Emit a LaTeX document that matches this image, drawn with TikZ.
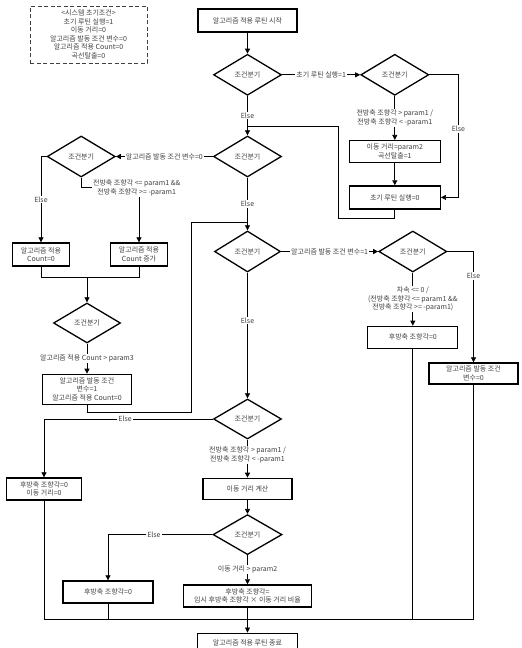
\documentclass[tikz,border=0pt]{standalone}
\usepackage{fontspec}
\setmainfont{Noto Sans CJK KR}
\usetikzlibrary{positioning,shapes.geometric,arrows.meta}

\begin{document}
\begin{tikzpicture}[
    x=1pt, y=-1pt,
    every node/.style={font=\fontsize{7}{8.5}\selectfont, text=black!75},
    init/.style={draw=black!75, dash pattern=on 4pt off 2.5pt, line width=0.8pt,
        minimum width=117pt, minimum height=57pt, align=center, inner sep=1pt},
    box/.style={draw, line width=1.3pt, align=center, inner sep=1pt, minimum height=22pt},
    cond/.style={diamond, draw, line width=1.3pt, aspect=1.6, inner sep=0pt,
        minimum width=68pt, minimum height=41pt},
    lbl/.style={fill=white, inner sep=1pt, align=center},
    flow/.style={-{Triangle[length=5pt,width=5pt]}, line width=0.7pt},
    link/.style={line width=0.7pt}
]
    \useasboundingbox (0,0) rectangle (522,648);

    \node[init] (sysinit) at (88.5,34.5) {<시스템 초기조건>\\초기 루틴 실행=1\\이동 거리=0\\알고리즘 발동 조건 변수=0\\알고리즘 적용 Count=0\\곡선탈출=0};

    % top part
    \node[box, minimum width=99pt, minimum height=23pt] (start) at (247.5,20.5) {알고리즘 적용 루틴 시작};
    \node[cond, below=21pt of start] (conda) {조건분기};
    \node[cond, right=78pt of conda] (condb) {조건분기};
    \node[box, minimum width=91pt, below=44pt of condb] (movea) {이동 거리=param2\\곡선탈출=1};
    \node[box, minimum width=91pt, minimum height=23pt, below=22pt of movea] (reset) {초기 루틴 실행=0};

    % left part
    \node[cond] (condc) at (247.5,156.5) {조건분기};
    \node[cond, left=97pt of condc] (condd) {조건분기};
    \node[box, minimum width=57pt, minimum height=23pt] (cnt0) at (41,254.5) {알고리즘 적용\\Count=0};
    \node[box, minimum width=57pt, minimum height=23pt] (cntup) at (139,254.5) {알고리즘 적용\\Count 증가};
    \node[cond, minimum width=67pt, minimum height=40pt] (conde) at (87,323) {조건분기};
    \node[box, minimum width=89pt, minimum height=30pt, below=30pt of conde] (trig1) {알고리즘 발동 조건\\변수=1\\알고리즘 적용 Count=0};

    % middle part
    \node[cond, minimum width=66pt] (condf) at (247.5,251.5) {조건분기};
    \node[cond, right=97pt of condf] (condg) {조건분기};
    \node[box, minimum width=90pt, below=53pt of condg] (reara) {후방축 조향각=0};
    \node[box, minimum width=89pt, minimum height=21pt] (trig0) at (473.5,373.5) {알고리즘 발동 조건\\변수=0};

    % bottom part
    \node[cond, minimum height=40pt] (condh) at (247.5,419) {조건분기};
    \node[box, minimum width=89pt, minimum height=21pt, below=38pt of condh] (calc) {이동 거리 계산};
    \node[cond, minimum width=69pt, minimum height=40pt, below=14pt of calc] (condi) {조건분기};
    \node[box, minimum width=128pt, below=29pt of condi] (rearset) {후방축 조향각=\\임시 후방축 조향각 × 이동 거리 비율};
    \node[box, minimum width=75pt] (rearb) at (44,489) {후방축 조향각=0\\이동 거리=0};
    \node[box, minimum width=90pt] (rearc) at (108,592) {후방축 조향각=0};
    \node[box, minimum width=100pt, minimum height=19pt, below=25pt of rearset] (endnode) {알고리즘 적용 루틴 종료};

    \coordinate (ja) at (247.5,126);
    \coordinate (jb) at (338,126);
    \coordinate (jc) at (87,277);
    \coordinate (jd) at (191,222);
    \coordinate (je) at (247.5,222);
    \coordinate (jf) at (247.5,619);

    \draw[flow] (start) -- (conda);
    \draw[flow] (conda) -- node[lbl] (lba) {초기 루틴 실행=1} (condb);
    \draw[flow] (condb) -- node[lbl] (lbb) {전방축 조향각 > param1 /\\전방축 조향각 < -param1} (movea);
    \draw[flow] (movea) -- (reset);
    \draw[flow] (condb.east) -- ++(29,0) |- node[lbl, pos=0.22] (elb) {Else} (reset.east);
    \draw[flow] (conda) -- node[lbl] (ela) {Else} (condc);
    \draw[link] (reset.south) -- ++(0,9) -| (jb) -- (ja);

    \draw[flow] (condc) -- node[lbl] (lbc) {알고리즘 발동 조건 변수=0} (condd);
    \draw[flow] (condd.west) -| node[lbl, pos=0.75] (eld) {Else} (cnt0.north);
    \draw[flow] (condd.south) -- ++(0,10) -| node[lbl, pos=0.48] (lbd) {전방축 조향각 <= param1 \&\&\\전방축 조향각 >= -param1} (cntup.north);
    \draw[link] (cnt0.south) |- (cntup.south |- jc) -- (cntup.south);
    \draw[flow] (jc) -- (conde);
    \draw[flow] (conde) -- node[lbl] (lbe) {알고리즘 적용 Count > param3} (trig1);
    \draw[link] (trig1.south) -- ++(0,7) -| (jd) -- (je);

    \draw[flow] (condc) -- node[lbl] (elc) {Else} (condf);
    \draw[flow] (condf) -- node[lbl] (lbf) {알고리즘 발동 조건 변수=1} (condg);
    \draw[flow] (condg.east) -| node[lbl, pos=0.61] (elg) {Else} (trig0.north);
    \draw[flow] (condg) -- node[lbl] (lbg) {차속 <= 0 /\\(전방축 조향각 <= param1 \&\&\\전방축 조향각 >= -param1)} (reara);
    \draw[flow] (condf) -- node[lbl, pos=0.38] (elf) {Else} (condh);

    \draw[flow] (condh.west) -| node[lbl, pos=0.26] (elh) {Else} (rearb.north);
    \draw[flow] (condh) -- node[lbl, pos=0.4] (lbh) {전방축 조향각 > param1 /\\전방축 조향각 < -param1} (calc);
    \draw[flow] (calc) -- (condi);
    \draw[flow] (condi.west) -| node[lbl, pos=0.28] (eli) {Else} (rearc.north);
    \draw[flow] (condi) -- node[lbl] (lbi) {이동 거리 > param2} (rearset);

    \draw[link] (rearb.south) |- (trig0.south |- jf) -- (trig0.south);
    \draw[link] (rearc.south) -- (rearc.south |- jf);
    \draw[link] (reara.south) -- (reara.south |- jf);
    \draw[flow] (rearset) -- (endnode);
\end{tikzpicture}
\end{document}
